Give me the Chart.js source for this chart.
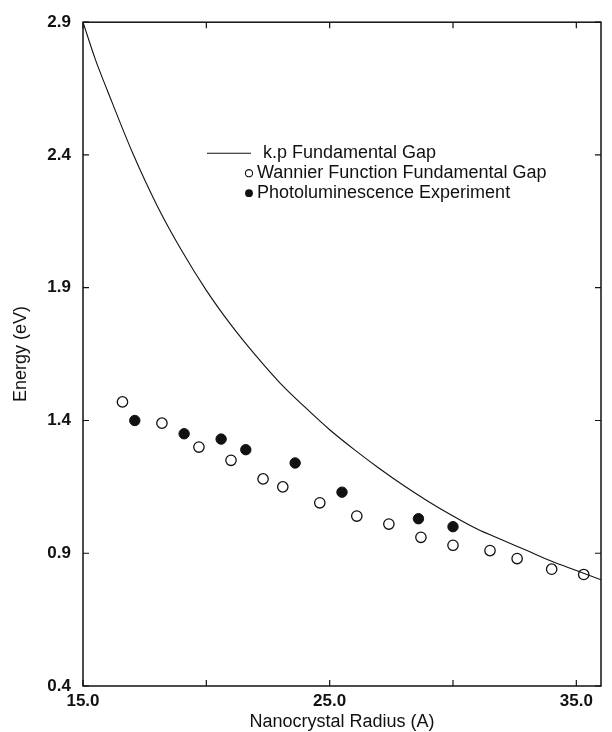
<!DOCTYPE html>
<html>
<head>
<meta charset="utf-8">
<script src="https://cdn.jsdelivr.net/npm/chart.js@4"></script>
<style>
  html, body { margin: 0; padding: 0; background: #fff; }
  #wrap { width: 612px; height: 732px; }
</style>
</head>
<body>
<div id="wrap"><canvas id="gapChart" width="612" height="732"></canvas></div>
<script>
// k.p fundamental gap curve (radius in A, energy in eV)
const kpRadius = [15, 15.5, 16, 17, 18, 19, 20, 21, 22, 23, 24, 25, 26, 27, 28, 29, 30, 31, 32, 33, 34, 35, 36];
const kpEnergy = [2.90, 2.76, 2.64, 2.41, 2.21, 2.04, 1.89, 1.76, 1.645, 1.54, 1.45, 1.365, 1.29, 1.22, 1.155, 1.095, 1.04, 0.99, 0.95, 0.91, 0.87, 0.835, 0.80];

// Wannier function fundamental gap (open circles)
const wannierRadius = [16.6, 18.2, 19.7, 21.0, 22.3, 23.1, 24.6, 26.1, 27.4, 28.7, 30.0, 31.5, 32.6, 34.0, 35.3];
const wannierEnergy = [1.47, 1.39, 1.30, 1.25, 1.18, 1.15, 1.09, 1.04, 1.01, 0.96, 0.93, 0.91, 0.88, 0.84, 0.82];

// photoluminescence experiment (filled circles)
const plRadius = [17.1, 19.1, 20.6, 21.6, 23.6, 25.5, 28.6, 30.0];
const plEnergy = [1.40, 1.35, 1.33, 1.29, 1.24, 1.13, 1.03, 1.00];

const xTicks = [15, 20, 25, 30, 35];
const xLabelled = [15, 25, 35];
const yTicks = [0.4, 0.9, 1.4, 1.9, 2.4, 2.9];

const seriesNames = ['k.p Fundamental Gap', 'Wannier Function Fundamental Gap', 'Photoluminescence Experiment'];

const ink = '#111';
const font = 'Liberation Sans, Arial, Helvetica, sans-serif';

function pairs(xs, ys) {
  return xs.map((x, i) => ({ x: x, y: ys[i] }));
}

// box, inward ticks on all sides, and the legend inside the plot
const framePlugin = {
  id: 'frame',
  afterDraw(chart) {
    const c = chart.ctx;
    const a = chart.chartArea;
    const xs = chart.scales.x, ys = chart.scales.y;
    const t = 6;
    c.save();
    c.strokeStyle = ink;
    c.lineWidth = 1.5;
    c.strokeRect(a.left, a.top, a.right - a.left, a.bottom - a.top);
    c.lineWidth = 1.2;
    c.beginPath();
    xTicks.forEach(v => {
      const px = xs.getPixelForValue(v);
      c.moveTo(px, a.bottom); c.lineTo(px, a.bottom - t);
      c.moveTo(px, a.top); c.lineTo(px, a.top + t);
    });
    yTicks.forEach(v => {
      const py = ys.getPixelForValue(v);
      c.moveTo(a.left, py); c.lineTo(a.left + t, py);
      c.moveTo(a.right, py); c.lineTo(a.right - t, py);
    });
    c.stroke();

    // legend
    const lx = a.left + 124, ly = a.top + 131, gap = 20;
    c.font = '18px ' + font;
    c.fillStyle = ink;
    c.textBaseline = 'middle';
    c.lineWidth = 1.1;
    c.beginPath();
    c.moveTo(lx, ly); c.lineTo(lx + 44, ly);
    c.stroke();
    c.fillText(seriesNames[0], lx + 56, ly);
    c.beginPath();
    c.arc(lx + 42, ly + gap, 3.6, 0, Math.PI * 2);
    c.fillStyle = '#fff'; c.fill(); c.stroke();
    c.fillStyle = ink;
    c.fillText(seriesNames[1], lx + 50, ly + gap);
    c.beginPath();
    c.arc(lx + 42, ly + gap * 2, 3.9, 0, Math.PI * 2);
    c.fill();
    c.fillText(seriesNames[2], lx + 50, ly + gap * 2);
    c.restore();
  }
};

const ctx = document.getElementById('gapChart').getContext('2d');
const gapChart = new Chart(ctx, {
  type: 'scatter',
  data: {
    datasets: [{
      label: seriesNames[0],
      data: pairs(kpRadius, kpEnergy),
      showLine: true,
      borderColor: ink,
      borderWidth: 1.1,
      pointRadius: 0,
      cubicInterpolationMode: 'monotone',
      fill: false
    }, {
      label: seriesNames[1],
      data: pairs(wannierRadius, wannierEnergy),
      pointRadius: 5.2,
      pointBackgroundColor: '#fff',
      pointBorderColor: ink,
      pointBorderWidth: 1.3
    }, {
      label: seriesNames[2],
      data: pairs(plRadius, plEnergy),
      pointRadius: 5.2,
      pointBackgroundColor: ink,
      pointBorderColor: ink,
      pointBorderWidth: 1
    }]
  },
  options: {
    responsive: false,
    animation: false,
    layout: { padding: { top: 13, right: 11, left: 0, bottom: 0 } },
    plugins: {
      legend: { display: false },
      tooltip: { enabled: false }
    },
    scales: {
      x: {
        type: 'linear',
        min: 15,
        max: 36,
        afterBuildTicks: s => { s.ticks = xTicks.map(v => ({ value: v })); },
        afterFit: s => { s.height = 46; },
        grid: { display: false, drawTicks: false },
        border: { display: false },
        ticks: {
          color: ink,
          padding: 5,
          maxRotation: 0,
          autoSkip: false,
          font: { family: font, size: 17, weight: 'bold' },
          callback: v => xLabelled.includes(v) ? v.toFixed(1) : ''
        },
        title: {
          display: true,
          text: 'Nanocrystal Radius (A)',
          color: ink,
          padding: { top: 0, bottom: -1 },
          font: { family: font, size: 18 }
        }
      },
      y: {
        type: 'linear',
        min: 0.4,
        max: 2.9,
        afterBuildTicks: s => { s.ticks = yTicks.map(v => ({ value: v })); },
        afterFit: s => { s.width = 83; },
        grid: { display: false, drawTicks: false },
        border: { display: false },
        ticks: {
          color: ink,
          padding: 12,
          font: { family: font, size: 17, weight: 'bold' },
          callback: v => v.toFixed(1)
        },
        title: {
          display: true,
          text: 'Energy (eV)',
          color: ink,
          padding: { top: 10, bottom: 0 },
          font: { family: font, size: 18 }
        }
      }
    }
  },
  plugins: [framePlugin]
});
</script>
</body>
</html>
